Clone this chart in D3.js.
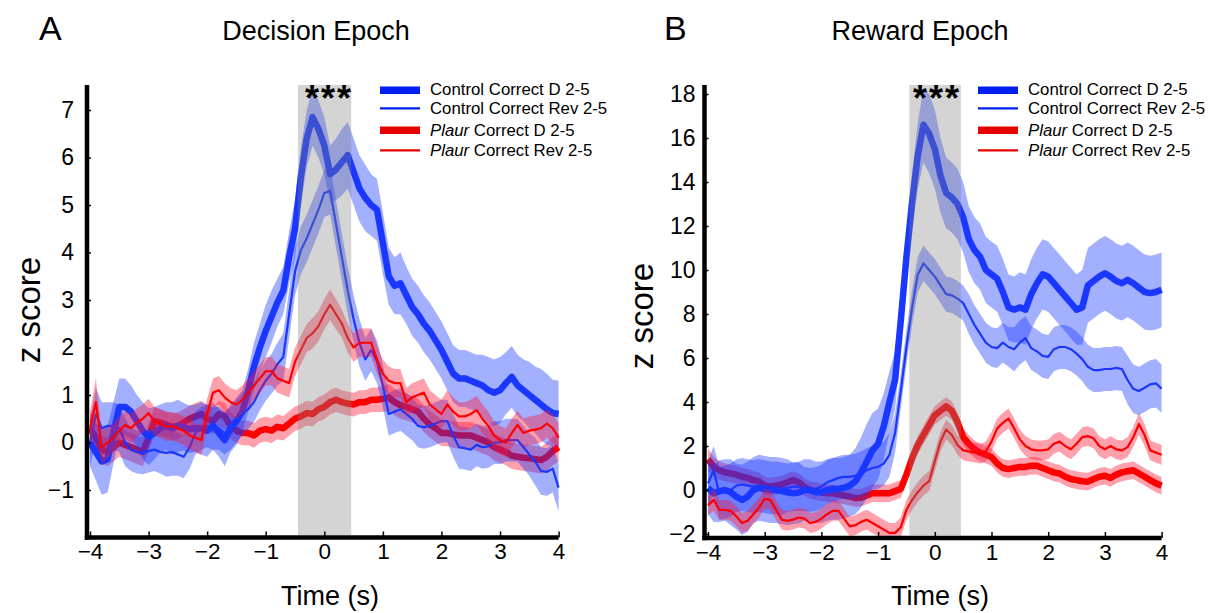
<!DOCTYPE html>
<html><head><meta charset="utf-8">
<script src="https://cdn.jsdelivr.net/npm/d3@7"></script>
<style>body{margin:0;background:#fff}svg{display:block;font-family:"Liberation Sans",Arial,Helvetica,sans-serif}</style>
</head><body>
<svg id="chart" width="1219" height="613"></svg>
<script>
// ---------- DATA ----------
const time = d3.range(-40, 41).map(i => i / 10); // -4.0 ... 4.0 s
const xTicks = [-4, -3, -2, -1, 0, 1, 2, 3, 4];
const yTicksA = [-1, 0, 1, 2, 3, 4, 5, 6, 7];
const yTicksB = [-2, 0, 2, 4, 6, 8, 10, 12, 14, 16, 18];
const seriesNames = ["Control Correct D 2-5", "Control Correct Rev 2-5", "Plaur Correct D 2-5", "Plaur Correct Rev 2-5"];
const sigWindow = [-0.45, 0.46];

// Panel A - Decision epoch (mean z score)
const A_ctrlD = [0.0,-0.2,-0.4,-0.35,0.2,0.75,0.75,0.65,0.45,0.25,
 0.12,0.2,0.3,0.35,0.3,0.35,0.33,0.28,0.3,0.3,
 0.25,0.35,0.2,0.05,0.3,0.45,0.65,1.1,1.6,2.0,
 2.35,2.65,2.95,3.2,3.9,4.5,5.6,6.4,6.85,6.6,
 6.25,5.65,5.75,5.9,6.05,5.7,5.35,5.15,5.0,4.9,
 4.2,3.5,3.3,3.35,3.1,2.85,2.7,2.5,2.35,2.15,
 1.95,1.7,1.45,1.35,1.35,1.3,1.25,1.2,1.1,1.05,
 1.1,1.25,1.38,1.2,1.1,1.0,0.9,0.8,0.7,0.62,
 0.6];
const A_ctrlR = [0.0,0.6,0.3,0.35,0.35,0.3,0.0,-0.15,-0.2,-0.22,
 -0.18,-0.15,-0.2,-0.22,-0.2,-0.25,-0.3,-0.1,0.2,0.3,
 0.35,0.3,0.3,0.2,0.3,0.45,0.6,0.7,0.85,1.1,
 1.3,1.45,1.65,1.8,2.7,3.6,4.05,4.3,4.6,4.9,
 5.25,5.3,4.6,3.9,3.2,2.6,2.1,1.75,1.95,1.7,
 1.2,0.6,0.65,0.7,0.6,0.5,0.35,0.32,0.35,0.4,
 0.45,0.45,0.15,-0.1,-0.12,-0.15,-0.05,-0.1,-0.08,0.0,
 0.0,0.05,0.05,0.05,-0.1,-0.25,-0.4,-0.6,-0.62,-0.55,
 -0.95];
const A_plaurD = [0.3,0.1,-0.15,-0.2,-0.1,0.0,-0.05,-0.1,-0.15,-0.2,
 0.1,0.45,0.42,0.38,0.33,0.35,0.42,0.5,0.55,0.6,
 0.5,0.45,0.6,0.55,0.35,0.25,0.2,0.2,0.15,0.25,
 0.28,0.25,0.33,0.3,0.4,0.5,0.55,0.62,0.6,0.7,
 0.75,0.85,0.9,0.85,0.82,0.8,0.85,0.85,0.9,0.9,
 0.92,0.95,0.85,0.78,0.75,0.7,0.65,0.5,0.38,0.3,
 0.2,0.2,0.17,0.15,0.15,0.15,0.1,0.05,0.0,-0.1,
 -0.15,-0.2,-0.28,-0.3,-0.32,-0.33,-0.35,-0.37,-0.3,-0.18,
 -0.1];
const A_plaurR = [0.3,0.85,-0.1,0.0,0.1,0.25,0.37,0.3,0.42,0.5,
 0.62,0.45,0.4,0.33,0.35,0.3,0.25,0.15,0.1,0.05,
 0.6,1.05,1.1,0.95,0.85,0.8,0.9,1.05,1.2,1.35,
 1.5,1.5,1.35,1.3,1.25,1.7,1.95,2.2,2.3,2.45,
 2.7,2.9,2.7,2.5,2.2,2.0,2.1,2.1,2.1,1.75,
 1.45,1.3,1.25,1.25,0.85,0.95,1.0,1.05,0.8,0.7,
 0.6,0.8,0.65,0.55,0.55,0.6,0.68,0.5,0.35,0.15,
 0.05,0.0,0.2,0.37,0.2,0.25,0.27,0.3,0.4,0.3,
 0.1];
// Panel A - SEM half-widths
const A_ctrlD_sem = [0.5,0.6,0.7,0.7,0.65,0.6,0.6,0.55,0.55,0.6,
 0.6,0.55,0.5,0.5,0.55,0.55,0.5,0.5,0.5,0.55,
 0.55,0.5,0.5,0.55,0.5,0.5,0.45,0.45,0.5,0.5,
 0.55,0.55,0.5,0.5,0.55,0.6,0.6,0.6,0.6,0.6,
 0.6,0.6,0.65,0.7,0.7,0.7,0.7,0.7,0.65,0.65,
 0.65,0.6,0.6,0.65,0.6,0.6,0.6,0.6,0.6,0.6,
 0.6,0.6,0.6,0.6,0.6,0.6,0.6,0.65,0.7,0.7,
 0.7,0.65,0.65,0.65,0.65,0.7,0.7,0.75,0.75,0.7,
 0.7];
const A_ctrlR_sem = [0.5,0.55,0.55,0.5,0.5,0.5,0.5,0.45,0.45,0.45,
 0.45,0.45,0.45,0.5,0.5,0.45,0.45,0.45,0.45,0.45,
 0.45,0.45,0.45,0.45,0.45,0.45,0.45,0.42,0.42,0.42,
 0.42,0.42,0.45,0.5,0.5,0.5,0.5,0.5,0.5,0.5,
 0.5,0.5,0.5,0.5,0.5,0.5,0.5,0.45,0.45,0.45,
 0.45,0.45,0.45,0.45,0.45,0.45,0.45,0.45,0.45,0.45,
 0.45,0.45,0.45,0.45,0.45,0.45,0.45,0.45,0.45,0.45,
 0.45,0.45,0.45,0.45,0.45,0.45,0.5,0.5,0.5,0.5,
 0.5];
const A_plaurD_sem = [0.35,0.35,0.3,0.3,0.3,0.3,0.3,0.3,0.3,0.3,
 0.3,0.3,0.28,0.28,0.28,0.28,0.28,0.28,0.28,0.28,
 0.28,0.28,0.28,0.28,0.28,0.26,0.26,0.26,0.26,0.26,
 0.26,0.26,0.26,0.26,0.26,0.26,0.26,0.26,0.26,0.26,
 0.26,0.26,0.26,0.25,0.25,0.25,0.25,0.25,0.26,0.26,
 0.28,0.28,0.28,0.28,0.28,0.28,0.28,0.28,0.28,0.28,
 0.28,0.28,0.28,0.28,0.28,0.28,0.28,0.28,0.28,0.28,
 0.28,0.28,0.28,0.28,0.28,0.28,0.28,0.28,0.3,0.3,
 0.3];
const A_plaurR_sem = [0.35,0.5,0.35,0.32,0.3,0.3,0.3,0.3,0.3,0.3,
 0.3,0.3,0.3,0.3,0.3,0.3,0.3,0.3,0.3,0.32,
 0.32,0.3,0.3,0.3,0.3,0.3,0.3,0.3,0.3,0.3,
 0.3,0.3,0.3,0.3,0.3,0.3,0.3,0.3,0.32,0.32,
 0.32,0.32,0.32,0.3,0.3,0.3,0.3,0.3,0.3,0.3,
 0.3,0.3,0.3,0.3,0.3,0.3,0.3,0.3,0.3,0.3,
 0.3,0.3,0.3,0.3,0.3,0.3,0.3,0.3,0.3,0.3,
 0.3,0.3,0.3,0.3,0.3,0.3,0.3,0.3,0.3,0.3,
 0.3];

// Panel B - Reward epoch (mean z score)
const B_ctrlD = [0.1,-0.15,-0.05,0.0,-0.1,-0.3,-0.45,-0.3,0.0,0.1,
 0.05,0.0,0.0,-0.05,-0.1,-0.15,-0.12,0.0,0.0,-0.1,
 -0.1,0.0,0.05,0.05,0.1,0.2,0.4,0.8,1.3,1.8,
 2.1,2.9,4.0,5.0,7.7,10.6,13.1,15.2,16.6,16.2,
 15.5,14.3,13.5,13.3,13.0,12.4,11.4,10.9,10.6,10.0,
 9.8,9.6,9.0,8.3,8.2,8.3,8.2,8.9,9.4,9.8,
 9.7,9.4,9.1,8.8,8.5,8.2,8.3,9.3,9.5,9.7,
 9.85,9.7,9.5,9.4,9.55,9.4,9.2,9.0,8.95,9.0,
 9.1];
const B_ctrlR = [0.3,0.9,-0.15,-0.1,0.0,0.2,0.25,0.2,0.15,0.2,
 0.15,0.1,0.1,0.05,0.1,0.15,0.15,0.05,0.0,0.05,
 0.15,0.35,0.45,0.55,0.6,0.6,0.65,0.75,0.9,1.0,
 1.05,1.2,1.6,2.6,4.5,6.5,8.3,9.8,10.3,10.0,
 9.7,9.3,8.9,8.85,8.7,8.5,8.0,7.5,7.1,6.7,
 6.5,6.45,6.7,6.5,6.4,6.7,6.9,6.45,6.3,6.1,
 6.05,6.4,6.5,6.5,6.4,6.2,5.95,5.6,5.45,5.45,
 5.5,5.5,5.55,5.5,5.0,4.6,4.5,4.65,4.8,4.85,
 4.6];
const B_plaurD = [1.4,1.05,0.9,0.8,0.75,0.7,0.6,0.55,0.45,0.4,
 0.2,0.15,0.2,0.25,0.35,0.45,0.35,0.15,0.0,-0.05,
 -0.1,-0.15,-0.15,-0.2,-0.25,-0.3,-0.37,-0.35,-0.25,-0.15,
 -0.15,-0.15,-0.15,-0.05,0.05,0.7,1.45,2.05,2.5,2.95,
 3.4,3.6,3.8,3.6,3.1,2.4,2.1,1.85,1.7,1.6,
 1.5,1.2,1.0,0.95,1.0,1.05,1.05,1.1,1.1,1.0,
 0.9,0.8,0.75,0.6,0.5,0.45,0.4,0.38,0.5,0.6,
 0.65,0.55,0.7,0.8,0.85,0.9,0.75,0.6,0.45,0.3,
 0.2];
const B_plaurR = [-0.7,-0.45,-0.9,-0.9,-0.95,-1.2,-1.5,-1.4,-1.1,-0.8,
 -0.4,-0.45,-0.9,-1.35,-1.4,-1.35,-1.25,-1.3,-1.5,-1.45,
 -1.3,-1.1,-0.95,-0.95,-1.3,-1.65,-1.6,-1.45,-1.35,-1.5,
 -1.65,-1.8,-1.95,-1.95,-1.7,-0.9,-0.45,-0.1,0.2,0.4,
 1.3,2.2,2.75,2.5,2.05,1.8,1.75,1.7,1.65,1.75,
 2.2,2.8,3.05,3.25,2.8,2.3,2.0,1.85,1.8,1.8,
 1.85,2.1,2.2,2.0,1.85,2.1,2.4,2.45,2.35,2.0,
 1.85,2.0,1.85,1.8,1.95,2.4,3.0,2.5,1.8,1.7,
 1.6];
// Panel B - SEM half-widths
const B_ctrlD_sem = [1.2,1.3,1.4,1.4,1.5,1.5,1.6,1.6,1.5,1.5,
 1.5,1.5,1.5,1.5,1.5,1.4,1.4,1.4,1.4,1.4,
 1.4,1.4,1.4,1.4,1.4,1.4,1.5,1.6,1.7,1.7,
 1.6,1.5,1.4,1.3,1.2,1.2,1.3,1.5,1.7,1.8,
 1.8,1.7,1.6,1.6,1.6,1.6,1.5,1.5,1.5,1.5,
 1.5,1.5,1.5,1.5,1.5,1.6,1.6,1.6,1.6,1.6,
 1.6,1.6,1.6,1.6,1.6,1.6,1.7,1.7,1.7,1.7,
 1.7,1.7,1.7,1.7,1.7,1.7,1.7,1.7,1.7,1.7,
 1.7];
const B_ctrlR_sem = [1.0,1.1,1.2,1.2,1.2,1.2,1.2,1.2,1.2,1.2,
 1.2,1.2,1.2,1.2,1.1,1.1,1.1,1.0,1.0,1.0,
 1.0,1.0,1.0,1.0,1.0,1.0,1.0,1.0,1.0,1.0,
 1.0,1.0,1.0,0.9,0.8,0.8,0.8,0.8,0.8,0.8,
 0.8,0.8,0.8,0.8,0.8,0.8,0.9,0.9,0.9,0.9,
 0.9,0.9,0.9,0.9,1.0,1.0,1.0,1.0,1.0,1.0,
 1.0,1.0,1.0,1.0,1.0,1.0,1.0,1.0,1.0,1.0,
 1.0,1.0,1.0,1.0,1.1,1.1,1.1,1.1,1.1,1.1,
 1.1];
const B_plaurD_sem = [0.5,0.45,0.42,0.4,0.4,0.4,0.4,0.4,0.4,0.4,
 0.4,0.4,0.4,0.4,0.4,0.4,0.4,0.4,0.4,0.4,
 0.4,0.4,0.4,0.4,0.4,0.4,0.4,0.4,0.4,0.4,
 0.4,0.4,0.4,0.4,0.4,0.4,0.4,0.4,0.42,0.42,
 0.42,0.42,0.42,0.42,0.42,0.4,0.4,0.4,0.4,0.4,
 0.4,0.4,0.4,0.4,0.4,0.4,0.4,0.4,0.4,0.4,
 0.4,0.4,0.4,0.4,0.4,0.4,0.4,0.4,0.4,0.4,
 0.4,0.4,0.4,0.4,0.4,0.4,0.4,0.4,0.4,0.4,
 0.4];
const B_plaurR_sem = [0.45,0.5,0.45,0.45,0.45,0.45,0.45,0.45,0.45,0.45,
 0.45,0.45,0.45,0.45,0.45,0.45,0.45,0.45,0.45,0.45,
 0.45,0.45,0.45,0.45,0.45,0.45,0.45,0.45,0.45,0.45,
 0.45,0.45,0.45,0.45,0.45,0.45,0.45,0.45,0.45,0.45,
 0.45,0.45,0.45,0.45,0.45,0.45,0.45,0.45,0.45,0.45,
 0.45,0.45,0.45,0.45,0.45,0.45,0.45,0.45,0.45,0.45,
 0.45,0.45,0.45,0.45,0.45,0.45,0.45,0.45,0.45,0.45,
 0.45,0.45,0.45,0.45,0.45,0.45,0.5,0.5,0.45,0.45,
 0.45];

// ---------- STYLE / LAYOUT ----------
const BLUE = "rgb(25,55,255)", RED = "rgb(255,0,0)";
const BAND_BLUE = "rgb(25,55,255)", BAND_RED = "rgb(255,20,50)";
const styles = [
  {color: BLUE, band: BAND_BLUE, width: 6.5},  // Control D
  {color: BLUE, band: BAND_BLUE, width: 2.2},  // Control Rev
  {color: RED,  band: BAND_RED,  width: 6.5},  // Plaur D
  {color: RED,  band: BAND_RED,  width: 2.2}   // Plaur Rev
];
const drawOrder = [2, 1, 0, 3];

const panels = [
  {letter: "A", title: "Decision Epoch", titleX: 316, letterX: 39,
   xr: [90, 558.6], axisX: 87, axisY: 537.5, yDom: [-2, 7.5], yRange: [537.5, 86.25], axisTop: 85,
   yTicks: yTicksA, tickPad: 13, zX: 40, zY: 310, timeX: 330,
   legX: 380, legTextX: 430,
   means: [A_ctrlD, A_ctrlR, A_plaurD, A_plaurR], sems: [A_ctrlD_sem, A_ctrlR_sem, A_plaurD_sem, A_plaurR_sem], starX: 329},
  {letter: "B", title: "Reward Epoch", titleX: 920, letterX: 664,
   xr: [708, 1161.6], axisX: 704.5, axisY: 538, yDom: [-2.15, 18.4], yRange: [537.3, 85.2], axisTop: 85,
   yTicks: yTicksB, tickPad: 9, zX: 653, zY: 316, timeX: 940,
   legX: 978, legTextX: 1028,
   means: [B_ctrlD, B_ctrlR, B_plaurD, B_plaurR], sems: [B_ctrlD_sem, B_ctrlR_sem, B_plaurD_sem, B_plaurR_sem], starX: 937}
];

const svg = d3.select("#chart");

panels.forEach((p, pi) => {
  const x = d3.scaleLinear().domain([-4, 4]).range(p.xr);
  const y = d3.scaleLinear().domain(p.yDom).range(p.yRange);
  const g = svg.append("g");

  const clipId = "clip" + pi;
  svg.append("clipPath").attr("id", clipId).append("rect")
    .attr("x", p.axisX).attr("y", 60).attr("width", p.xr[1] - p.axisX + 6).attr("height", p.axisY - 60);
  const plot = g.append("g").attr("clip-path", `url(#${clipId})`);

  drawOrder.forEach(si => {
    const m = p.means[si], s = p.sems[si], st = styles[si];
    const data = time.map((t, i) => ({t, m: m[i], s: s[i]}));
    plot.append("path").datum(data)
      .attr("d", d3.area().x(d => x(d.t)).y0(d => y(d.m - d.s)).y1(d => y(d.m + d.s)))
      .attr("fill", st.band).attr("fill-opacity", 0.4).attr("stroke", "none");
    plot.append("path").datum(data)
      .attr("d", d3.line().x(d => x(d.t)).y(d => y(d.m)))
      .attr("fill", "none").attr("stroke", st.color).attr("stroke-width", st.width)
      .attr("stroke-linejoin", "round").attr("stroke-linecap", "butt");
  });

  // significance window (grey, drawn on top)
  g.append("rect")
    .attr("x", x(sigWindow[0])).attr("width", x(sigWindow[1]) - x(sigWindow[0]))
    .attr("y", p.axisTop).attr("height", p.axisY - 2.5 - p.axisTop)
    .attr("fill", "rgb(128,128,128)").attr("fill-opacity", 0.34);

  // stars
  g.append("text").attr("x", p.starX).attr("y", p.axisTop + 26)
    .attr("text-anchor", "middle").attr("font-size", 36).attr("font-weight", "bold")
    .attr("letter-spacing", 2).text("***");

  // y axis
  const ya = d3.axisLeft(y).tickValues(p.yTicks).tickSizeInner(-4).tickSizeOuter(0).tickPadding(p.tickPad);
  const yg = g.append("g").attr("transform", `translate(${p.axisX},0)`).call(ya);
  yg.select(".domain").remove();
  yg.selectAll(".tick line").attr("stroke", "#000").attr("stroke-width", 1.5);
  yg.selectAll(".tick text").attr("font-size", 23).attr("fill", "#000")
    .attr("font-family", '"Liberation Sans",Arial,sans-serif');

  // x axis
  const xa = d3.axisBottom(x).tickValues(xTicks).tickSizeInner(-6).tickSizeOuter(0).tickPadding(6);
  const xg = g.append("g").attr("transform", `translate(0,${p.axisY})`).call(xa);
  xg.select(".domain").remove();
  xg.selectAll(".tick line").attr("stroke", "#000").attr("stroke-width", 1.5);
  xg.selectAll(".tick text").attr("font-size", 22.5).attr("fill", "#000")
    .attr("font-family", '"Liberation Sans",Arial,sans-serif');

  // axis lines
  g.append("line").attr("x1", p.axisX).attr("x2", p.axisX).attr("y1", p.axisTop).attr("y2", p.axisY + 2.2)
    .attr("stroke", "#000").attr("stroke-width", 4.5);
  g.append("line").attr("x1", p.axisX - 2.2).attr("x2", p.xr[1]).attr("y1", p.axisY).attr("y2", p.axisY)
    .attr("stroke", "#000").attr("stroke-width", 4.5);

  // labels
  g.append("text").attr("x", p.letterX).attr("y", 40).attr("font-size", 34).text(p.letter);
  g.append("text").attr("x", p.titleX).attr("y", 40).attr("text-anchor", "middle").attr("font-size", 27).text(p.title);
  g.append("text").attr("x", p.timeX).attr("y", 605).attr("text-anchor", "middle").attr("font-size", 27).text("Time (s)");
  g.append("text").attr("transform", `translate(${p.zX},${p.zY}) rotate(-90)`).attr("text-anchor", "middle")
    .attr("font-size", 33).text("z score");

  // legend
  const rowsY = [90.3, 108.3, 130.3, 150.3];
  const textY = [94.5, 113.5, 135.5, 155.5];
  seriesNames.forEach((name, i) => {
    const st = styles[i];
    g.append("line").attr("x1", p.legX).attr("x2", p.legX + 40).attr("y1", rowsY[i]).attr("y2", rowsY[i])
      .attr("stroke", i < 2 ? "rgb(0,30,240)" : "rgb(230,0,0)").attr("stroke-width", st.width > 3 ? 7.5 : 2.2);
    const tx = g.append("text").attr("x", p.legTextX).attr("y", textY[i]).attr("font-size", 16.8);
    if (name.startsWith("Plaur")) {
      tx.append("tspan").attr("font-style", "italic").text("Plaur");
      tx.append("tspan").text(name.slice(5));
    } else {
      tx.text(name);
    }
  });
});
</script>
</body></html>
